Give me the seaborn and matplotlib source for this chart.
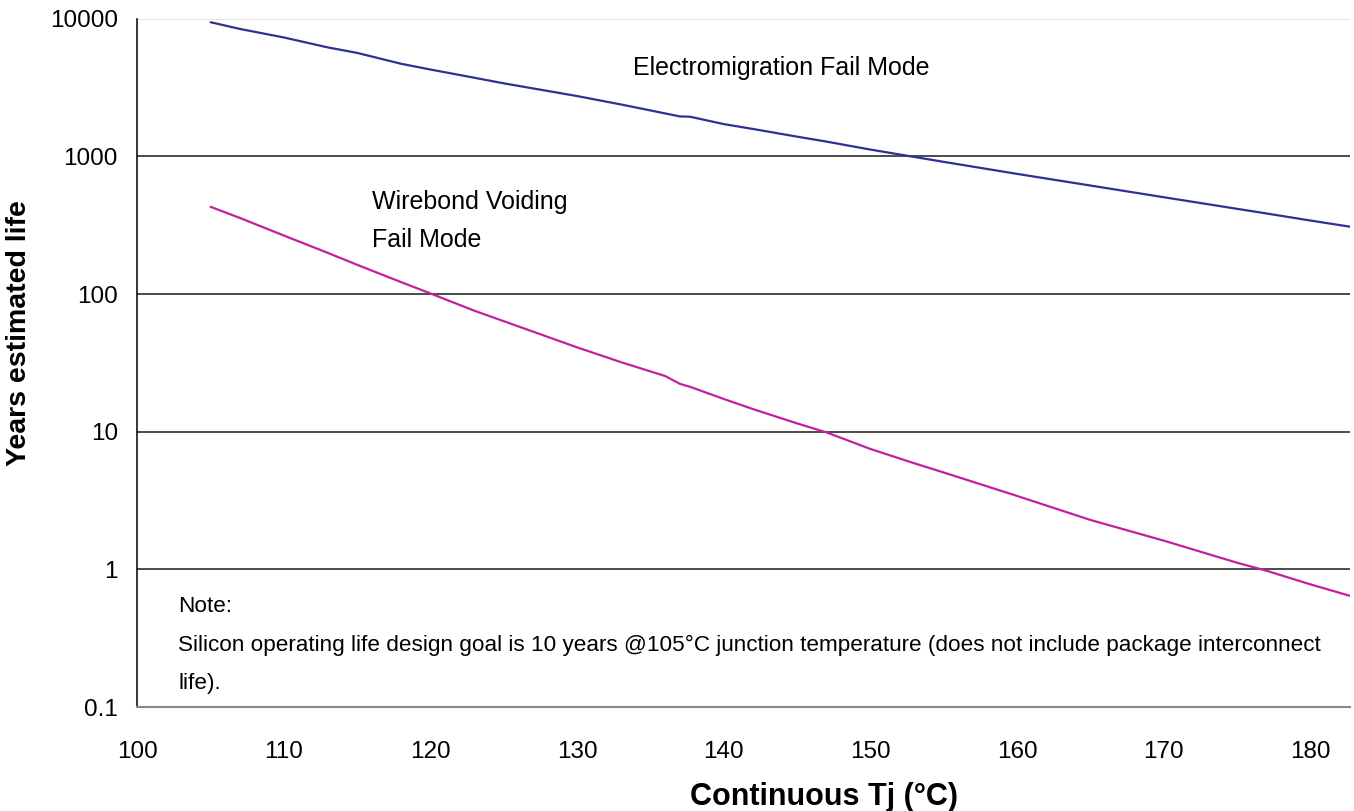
import numpy as np
import pandas as pd
import matplotlib
matplotlib.use("Agg")
import matplotlib.pyplot as plt
import seaborn as sns
from matplotlib.ticker import FixedLocator, FixedFormatter, NullLocator

# Data (junction temperature in degC, years of estimated life)
temps = [105, 107, 110, 113, 115, 118, 120, 123, 125, 130, 133, 136, 137, 137.7,
         140, 142, 145, 147, 150, 153, 155, 160, 165, 170, 175, 177, 180, 183]
electromigration = [9420, 8420, 7300, 6180, 5640, 4700, 4270, 3720, 3390, 2740, 2380, 2050, 1950, 1940,
                    1715, 1580, 1390, 1280, 1120, 990, 912, 746, 614, 505, 416, 385, 342, 305]
wirebond = [430, 357, 266, 199, 163, 122, 101, 75.6, 63.5, 41, 32, 25.4, 22.3, 21.2,
            17.3, 14.6, 11.5, 9.9, 7.5, 5.9, 5.06, 3.42, 2.29, 1.62, 1.12, 0.98, 0.78, 0.63]

series_names = ["Electromigration", "Wirebond"]
series_colors = ["#2e3192", "#c4209c"]

y_ticks = [0.1, 1, 10, 100, 1000, 10000]
y_tick_labels = ["0.1", "1", "10", "100", "1000", "10000"]
x_ticks = [100, 110, 120, 130, 140, 150, 160, 170, 180]

df = pd.DataFrame({
    "Tj": temps * 2,
    "life": electromigration + wirebond,
    "mode": [series_names[0]] * len(temps) + [series_names[1]] * len(temps),
})

sns.set_style("white")
plt.rcParams["font.family"] = ["Liberation Sans", "DejaVu Sans"]
plt.rcParams["text.color"] = "black"
plt.rcParams["axes.labelcolor"] = "black"
plt.rcParams["xtick.labelcolor"] = "black"
plt.rcParams["ytick.labelcolor"] = "black"

fig = plt.figure(figsize=(13.54, 8.11), dpi=100)
ax = fig.add_axes([0.1014, 0.128, 0.8956, 0.849])

ax.set_yscale("log")
sns.lineplot(data=df, x="Tj", y="life", hue="mode", palette=dict(zip(series_names, series_colors)),
             linewidth=1.6, legend=False, ax=ax)

ax.set_xlim(100, 182.7)
ax.set_ylim(0.1, 10000)

# horizontal grid lines
for v in y_ticks[1:-1]:
    ax.axhline(v, color="#1a1a1a", linewidth=1.1, zorder=0)
ax.axhline(10000, color="#dddddd", linewidth=1.1, zorder=0)

ax.yaxis.set_major_locator(FixedLocator(y_ticks))
ax.yaxis.set_major_formatter(FixedFormatter(y_tick_labels))
ax.yaxis.set_minor_locator(NullLocator())
ax.set_xticks(x_ticks)

ax.tick_params(axis="both", labelsize=17.5, length=8, width=1, color="#666666", direction="out")
ax.tick_params(axis="y", pad=6)
ax.tick_params(axis="x", pad=16)

for side in ["top", "right"]:
    ax.spines[side].set_visible(False)
ax.spines["left"].set_color("black")
ax.spines["left"].set_linewidth(1.1)
ax.spines["bottom"].set_color("#888888")
ax.spines["bottom"].set_linewidth(1.5)

# axis titles (positioned where the original puts them)
ax.set_xlabel("Continuous Tj (°C)", fontsize=22, fontweight="bold")
ax.set_ylabel("Years estimated life", fontsize=20.5, fontweight="bold")
ax.xaxis.label.set_va("center")
ax.yaxis.label.set_va("center")
ax.xaxis.set_label_coords((824 - 137.3) / 1212.7, (707.3 - 797) / 688.6)
ax.yaxis.set_label_coords((19 - 137.3) / 1212.7, (707.3 - 333) / 688.6)

# annotation texts
fig.text(633 / 1354, 1 - 68 / 811, "Electromigration Fail Mode", fontsize=18, va="center")
fig.text(372 / 1354, 1 - 202 / 811, "Wirebond Voiding", fontsize=18, va="center")
fig.text(372 / 1354, 1 - 240 / 811, "Fail Mode", fontsize=18, va="center")
fig.text(178 / 1354, 1 - 607 / 811, "Note:", fontsize=16.2, va="center")
fig.text(178 / 1354, 1 - 645 / 811,
         "Silicon operating life design goal is 10 years @105°C junction temperature (does not include package interconnect",
         fontsize=16.2, va="center")
fig.text(178 / 1354, 1 - 683 / 811, "life).", fontsize=16.2, va="center")

fig.savefig("out.png", dpi=100)
